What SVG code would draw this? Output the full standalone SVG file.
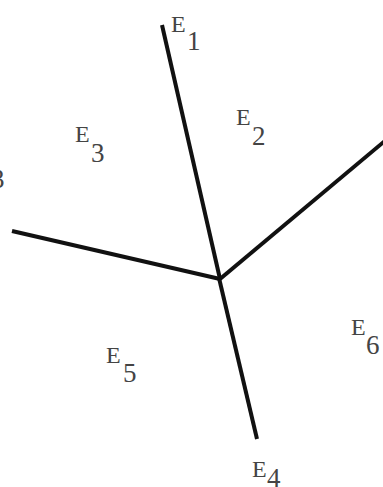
<svg xmlns="http://www.w3.org/2000/svg" width="383" height="487" viewBox="0 0 383 487">
<style>
.ln{stroke:#111;stroke-width:4;stroke-linecap:butt;fill:none}
.t{font-family:"Liberation Serif","Times New Roman",serif;font-size:24px;fill:#444}
.s{font-size:27px}
</style>
<rect width="383" height="487" fill="#fff"/>
<g id="connectors">
<line class="ln" x1="162" y1="25" x2="220" y2="279"/>
<line class="ln" x1="12" y1="231" x2="220" y2="279"/>
<line class="ln" x1="220" y1="279" x2="386" y2="140"/>
<line class="ln" x1="219" y1="278" x2="257" y2="439"/>
</g>
<g id="E1"><text class="t" x="171" y="32">E</text><text class="t s" x="187" y="50">1</text></g>
<g id="E2"><text class="t" x="236" y="125">E</text><text class="t s" x="252" y="145">2</text></g>
<g id="E3"><text class="t" x="75" y="142">E</text><text class="t s" x="91" y="162">3</text></g>
<g id="E5"><text class="t" x="106" y="363">E</text><text class="t s" x="123" y="382">5</text></g>
<g id="E6"><text class="t" x="351" y="335">E</text><text class="t s" x="366" y="354">6</text></g>
<g id="E4"><text class="t" x="252" y="477">E</text><text class="t s" x="267" y="487">4</text></g>
<g id="clipped"><text class="t s" x="-9" y="188">3</text></g>
</svg>
